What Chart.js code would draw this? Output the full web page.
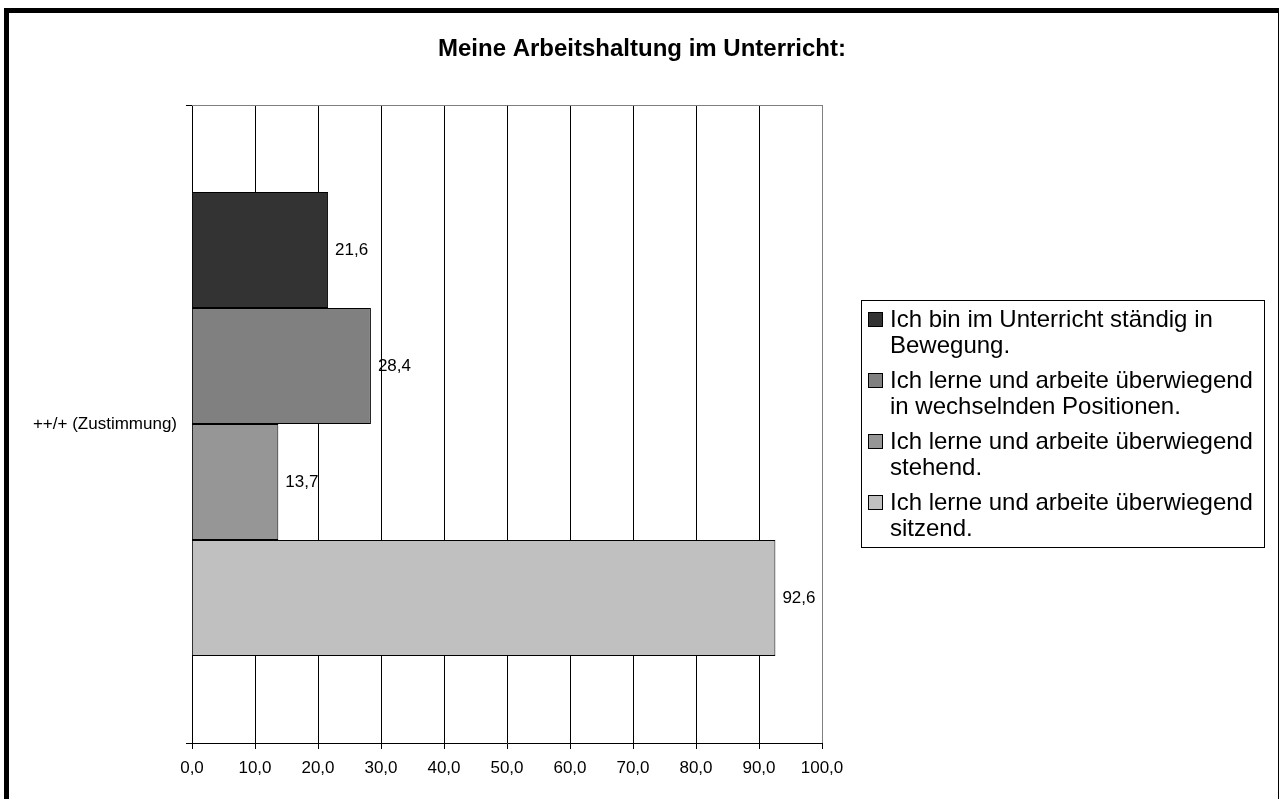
<!DOCTYPE html>
<html>
<head>
<meta charset="utf-8">
<script src="https://cdn.jsdelivr.net/npm/chart.js@4/dist/chart.umd.min.js"></script>
<style>
  html, body { margin: 0; padding: 0; background: #fff; overflow: hidden; }
  #wrap { position: absolute; left: 0; top: 0; width: 1279px; height: 799px; }
  #frame { position: absolute; left: 4px; top: 8px; width: 1279px; height: 900px; border: 5px solid #000; pointer-events: none; box-sizing: border-box; }
</style>
</head>
<body>
<div id="wrap">
  <canvas id="c" width="1279" height="799"></canvas>
  <div id="frame"></div>
</div>
<script>
// ---- data ----
const chartTitle = "Meine Arbeitshaltung im Unterricht:";
const categories = ["++/+ (Zustimmung)"];
const seriesNames = [
  ["Ich bin im Unterricht ständig in", "Bewegung."],
  ["Ich lerne und arbeite überwiegend", "in wechselnden Positionen."],
  ["Ich lerne und arbeite überwiegend", "stehend."],
  ["Ich lerne und arbeite überwiegend", "sitzend."]
];
const seriesValues = [[21.6], [28.4], [13.7], [92.6]];
const seriesColors = ["#333333", "#808080", "#969696", "#C0C0C0"];
const xMin = 0, xMax = 100, xStep = 10;

const FONT = '"Liberation Sans", Arial, sans-serif';
const fmt = v => Number(v).toFixed(1).replace('.', ',');

const decor = {
  id: 'decor',
  beforeDatasetsDraw(chart) {
    const ctx = chart.ctx, a = chart.chartArea;
    ctx.save();
    ctx.strokeStyle = '#808080';
    ctx.lineWidth = 1;
    ctx.beginPath();
    ctx.moveTo(a.left, a.top + 0.5);
    ctx.lineTo(a.right + 1, a.top + 0.5);
    ctx.stroke();
    ctx.restore();
  },
  afterDatasetsDraw(chart) {
    const ctx = chart.ctx;
    ctx.save();
    ctx.font = '17px ' + FONT;
    ctx.fillStyle = '#000';
    ctx.textAlign = 'left';
    ctx.textBaseline = 'middle';
    chart.data.datasets.forEach((ds, i) => {
      const meta = chart.getDatasetMeta(i);
      meta.data.forEach((el, j) => {
        ctx.fillText(fmt(ds.data[j]), el.x + 7, el.y);
      });
    });
    ctx.restore();
  },
  afterDraw(chart) {
    const ctx = chart.ctx;
    ctx.save();
    // title
    ctx.font = 'bold 24px ' + FONT;
    ctx.fillStyle = '#000';
    ctx.textAlign = 'center';
    ctx.textBaseline = 'middle';
    ctx.fillText(chartTitle, 642, 49);
    // legend
    const lx = 861, ly = 300, lw = 403, lh = 247;
    ctx.strokeStyle = '#000';
    ctx.lineWidth = 1;
    ctx.strokeRect(lx + 0.5, ly + 0.5, lw, lh);
    ctx.font = '24px ' + FONT;
    ctx.textAlign = 'left';
    const lineH = 26.5, itemPitch = 61;
    chart.data.datasets.forEach((ds, i) => {
      const y0 = ly + 20 + i * itemPitch;
      ctx.fillStyle = ds.backgroundColor;
      ctx.fillRect(868, Math.round(y0 - 8), 15, 15);
      ctx.strokeRect(868.5, Math.round(y0 - 8) + 0.5, 14, 14);
      ctx.fillStyle = '#000';
      seriesNames[i].forEach((line, k) => {
        ctx.fillText(line, 890, y0 + k * lineH);
      });
    });
    ctx.restore();
  }
};

new Chart(document.getElementById('c'), {
  type: 'bar',
  data: {
    labels: categories,
    datasets: seriesValues.map((vals, i) => ({
      label: seriesNames[i].join(' '),
      data: vals,
      backgroundColor: seriesColors[i],
      borderColor: '#000',
      borderWidth: 1,
      barPercentage: 1,
      categoryPercentage: 464 / 638
    }))
  },
  options: {
    indexAxis: 'y',
    responsive: false,
    animation: false,
    devicePixelRatio: 1,
    layout: { padding: { top: 105, right: 457, bottom: 0, left: 0 } },
    plugins: {
      legend: { display: false },
      title: { display: false },
      tooltip: { enabled: false }
    },
    scales: {
      x: {
        min: xMin, max: xMax,
        ticks: {
          stepSize: xStep,
          color: '#000',
          font: { family: FONT, size: 17 },
          padding: 9,
          maxRotation: 0,
          callback: v => fmt(v)
        },
        grid: {
          color: ctx => (ctx.tick && ctx.tick.value === xMax) ? '#808080' : '#000',
          tickColor: '#000',
          tickLength: 6,
          lineWidth: 1
        },
        border: { display: true, color: '#000', width: 1 },
        afterFit: s => { s.height = 56; }
      },
      y: {
        ticks: {
          color: '#000',
          font: { family: FONT, size: 17 },
          padding: 9
        },
        grid: {
          drawOnChartArea: false,
          drawTicks: true,
          tickLength: 6,
          color: '#000'
        },
        border: { display: true, color: '#000', width: 1 },
        afterFit: s => { s.width = 192; }
      }
    }
  },
  plugins: [decor]
});
</script>
</body>
</html>
